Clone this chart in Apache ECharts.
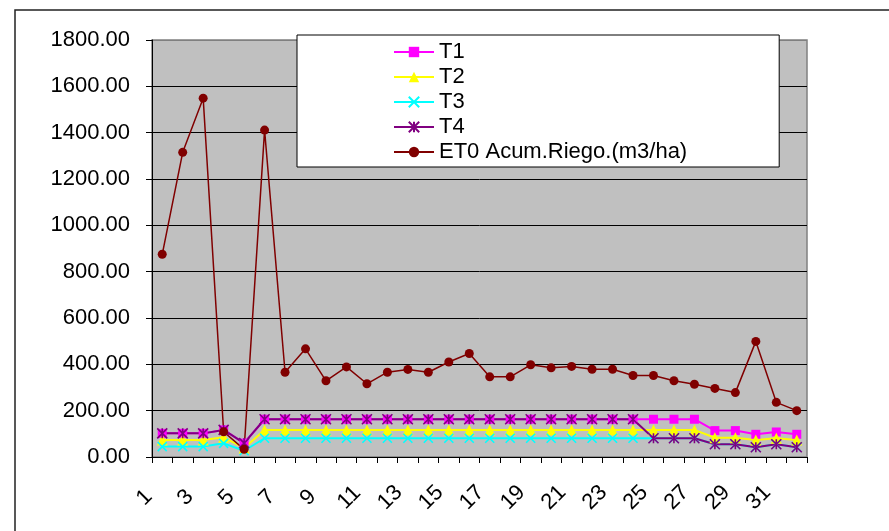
<!DOCTYPE html>
<html>
<head>
<meta charset="utf-8">
<script src="https://cdn.jsdelivr.net/npm/echarts@6/dist/echarts.min.js"></script>
<style>
html,body{margin:0;padding:0;background:#fff;}
#chart{width:889px;height:531px;}
</style>
</head>
<body>
<div id="chart"></div>
<script>
var categories = ['1','2','3','4','5','6','7','8','9','10','11','12','13','14','15','16','17','18','19','20','21','22','23','24','25','26','27','28','29','30','31','32'];
var yTicks = [0, 200, 400, 600, 800, 1000, 1200, 1400, 1600, 1800];
var t1 = [102,102,102,117,60,163,163,163,163,163,163,163,163,163,163,163,163,163,163,163,163,163,163,163,163,163,163,114,114,98,108,98];
var t2 = [73,73,73,85,39,117,117,117,117,117,117,117,117,117,117,117,117,117,117,117,117,117,117,117,117,117,117,83,83,73,81,73];
var t3 = [45,45,45,59,27,81,81,81,81,81,81,81,81,81,81,81,81,81,81,81,81,81,81,81,81,81,81,55,55,42,55,42];
var t4 = [102,102,102,117,60,163,163,163,163,163,163,163,163,163,163,163,163,163,163,163,163,163,163,163,81,81,81,55,55,42,55,42];
var et0 = [875,1315,1549,109,33,1411,366,467,329,389,316,366,378,366,410,447,346,346,398,385,391,379,379,352,352,329,314,296,278,499,236,200];
var seriesNames = ['T1','T2','T3','T4','ET0 Acum.Riego.(m3/ha)'];

var FONT = 'Liberation Sans, Arial, sans-serif';
var chart = echarts.init(document.getElementById('chart'));
var xPath = 'path://M0,0L10,10M10,0L0,10';
var starPath = 'path://M5,0L5,10M0,0L10,10M10,0L0,10';

function mk(name, data, color, symbol, size, lw, stroke) {
  return {
    name: name, type: 'line', data: data,
    symbol: symbol, symbolSize: size,
    lineStyle: {color: color, width: lw},
    itemStyle: {color: color, borderColor: color, borderWidth: stroke ? 1.6 : 0},
    emphasis: {disabled: true}
  };
}

chart.setOption({
  animation: false,
  backgroundColor: '#fff',
  graphic: [{
    type: 'rect', z: -10, silent: true,
    shape: {x: 15, y: 10, width: 1000, height: 1000},
    style: {fill: null, stroke: '#222', lineWidth: 1.5}
  }],
  grid: {left: 152, right: 82, top: 40, bottom: 74, show: true,
    backgroundColor: '#C0C0C0', borderColor: '#808080', borderWidth: 1.5,
    outerBoundsMode: 'none'},
  legend: {
    data: seriesNames, orient: 'vertical', left: 297, top: 35,
    padding: [6, 92, 4, 96], itemGap: 3, itemWidth: 40, itemHeight: 13,
    backgroundColor: '#fff', borderColor: '#000', borderWidth: 1,
    textStyle: {fontFamily: FONT, fontSize: 22, color: '#000', lineHeight: 22}
  },
  xAxis: {
    type: 'category', data: categories, boundaryGap: true,
    axisLine: {lineStyle: {color: '#000', width: 1}},
    axisTick: {show: true, interval: 0, length: 6, lineStyle: {color: '#000'}},
    axisLabel: {interval: 1, rotate: 45, align: 'center', verticalAlign: 'middle',
      padding: [0, 50, 0, 0], margin: 23,
      fontFamily: FONT, fontSize: 22, color: '#000'},
    splitLine: {show: false}
  },
  yAxis: {
    type: 'value', min: yTicks[0], max: yTicks[yTicks.length - 1], interval: 200,
    axisLine: {show: true, lineStyle: {color: '#000', width: 1}},
    axisTick: {show: true, length: 6, lineStyle: {color: '#000'}},
    axisLabel: {margin: 22, fontFamily: FONT, fontSize: 22, color: '#000',
      formatter: function (v) { return v.toFixed(2); }},
    splitLine: {show: true, lineStyle: {width: 1,
      color: ['#000','#000','#000','#000','#000','#000','#000','#000','#000','#808080']}}
  },
  series: [
    mk(seriesNames[0], t1, '#FF00FF', 'rect', 9, 2, false),
    mk(seriesNames[1], t2, '#FFFF00', 'triangle', 11, 2, false),
    mk(seriesNames[2], t3, '#00FFFF', xPath, 9, 2, true),
    mk(seriesNames[3], t4, '#800080', starPath, 10, 2, true),
    mk(seriesNames[4], et0, '#800000', 'circle', 9, 1.5, false)
  ]
});
</script>
</body>
</html>
